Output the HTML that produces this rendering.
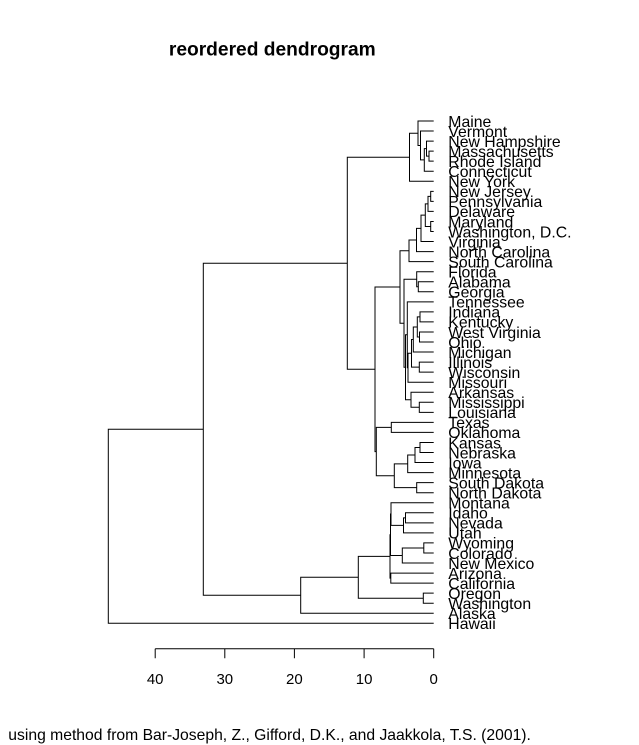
<!DOCTYPE html>
<html>
<head>
<meta charset="utf-8">
<style>
html,body{margin:0;padding:0;background:#fff;}
svg{display:block;}
text{font-family:"Liberation Sans",Arial,sans-serif;fill:#000;}
</style>
</head>
<body>
<svg width="639" height="745" viewBox="0 0 639 745" xmlns="http://www.w3.org/2000/svg">
<rect x="0" y="0" width="639" height="745" fill="#fff"/>
<text x="272.3" y="55.5" font-size="19.2" font-weight="bold" text-anchor="middle">reordered dendrogram</text>

<g fill="none" stroke="#000" stroke-width="1">
<!-- NE -->
<path d="M433.7 151.14 H429 V161.18 H433.7"/>
<path d="M433.7 141.09 H426.5 V156.16 H429"/>
<path d="M426.5 148.63 H424.3 V171.23 H433.7"/>
<path d="M433.7 131.05 H420.5 V159.93 H424.3"/>
<path d="M433.7 121 H418 V145.49 H420.5"/>
<path d="M418 133.25 H409.5 V181.28 H433.7"/>
<!-- Mid-Atlantic -->
<path d="M433.7 191.32 H430.7 V201.37 H433.7"/>
<path d="M430.7 196.35 H428 V211.41 H433.7"/>
<path d="M433.7 221.46 H430.7 V231.51 H433.7"/>
<path d="M428 203.88 H425.3 V226.49 H430.7"/>
<path d="M425.3 215.18 H421 V241.55 H433.7"/>
<path d="M421 228.37 H416.5 V251.6 H433.7"/>
<path d="M416.5 239.98 H409 V261.64 H433.7"/>
<!-- South / Midwest -->
<path d="M433.7 281.74 H418.3 V291.78 H433.7"/>
<path d="M433.7 271.69 H416.7 V286.76 H418.3"/>
<path d="M433.7 311.87 H420 V321.92 H433.7"/>
<path d="M433.7 331.97 H419.5 V342.01 H433.7"/>
<path d="M420 316.9 H417.3 V336.99 H419.5"/>
<path d="M417.3 326.94 H413.3 V352.06 H433.7"/>
<path d="M433.7 362.1 H419.3 V372.15 H433.7"/>
<path d="M413.3 339.5 H411.5 V367.13 H419.3"/>
<path d="M411.5 353.31 H408 V382.2 H433.7"/>
<path d="M433.7 301.83 H407.3 V367.76 H408"/>
<path d="M433.7 402.29 H419.3 V412.33 H433.7"/>
<path d="M433.7 392.24 H411 V407.31 H419.3"/>
<path d="M407.3 334.79 H405.5 V399.78 H411"/>
<path d="M416.7 279.22 H404 V367.28 H405.5"/>
<path d="M409 250.81 H400 V323.25 H404"/>
<!-- Plains -->
<path d="M433.7 422.38 H391.3 V432.43 H433.7"/>
<path d="M433.7 442.47 H420 V452.52 H433.7"/>
<path d="M420 447.5 H415 V462.56 H433.7"/>
<path d="M415 455.03 H407.7 V472.61 H433.7"/>
<path d="M433.7 482.66 H416.7 V492.7 H433.7"/>
<path d="M407.7 463.82 H394.3 V487.68 H416.7"/>
<path d="M391.3 427.4 H376.3 V475.75 H394.3"/>
<path d="M400 287.03 H375 V451.58 H376.3"/>
<path d="M409.5 157.26 H347.3 V369.3 H375"/>
<!-- West -->
<path d="M433.7 512.79 H405.5 V522.84 H433.7"/>
<path d="M405.5 517.82 H403.5 V532.89 H433.7"/>
<path d="M433.7 502.75 H391 V525.35 H403.5"/>
<path d="M433.7 542.93 H423.8 V552.98 H433.7"/>
<path d="M423.8 547.96 H402.3 V563.02 H433.7"/>
<path d="M391 514.05 H390.5 V555.49 H402.3"/>
<path d="M433.7 573.07 H390.8 V583.12 H433.7"/>
<path d="M390.5 534.77 H390 V578.1 H390.8"/>
<path d="M433.7 593.16 H423.3 V603.21 H433.7"/>
<path d="M390 556.43 H358.3 V598.19 H423.3"/>
<path d="M358.3 577.31 H300.7 V613.25 H433.7"/>
<path d="M347.3 263.28 H203.3 V595.28 H300.7"/>
<path d="M203.3 429.28 H108.3 V623.3 H433.7"/>
<!-- axis -->
<path d="M155.2 648.7 H433.7"/>
<path d="M155.2 648.7 V658.3 M224.8 648.7 V658.3 M294.4 648.7 V658.3 M364.1 648.7 V658.3 M433.7 648.7 V658.3"/>
</g>

<g font-size="15" text-anchor="middle">
<text x="155.2" y="684">40</text>
<text x="224.8" y="684">30</text>
<text x="294.4" y="684">20</text>
<text x="364.1" y="684">10</text>
<text x="433.7" y="684">0</text>
</g>

<g font-size="15.8">
<text x="448.3" y="126.8">Maine</text>
<text x="448.3" y="136.85">Vermont</text>
<text x="448.3" y="146.89">New Hampshire</text>
<text x="448.3" y="156.94">Massachusetts</text>
<text x="448.3" y="166.98">Rhode Island</text>
<text x="448.3" y="177.03">Connecticut</text>
<text x="448.3" y="187.08">New York</text>
<text x="448.3" y="197.12">New Jersey</text>
<text x="448.3" y="207.17">Pennsylvania</text>
<text x="448.3" y="217.21">Delaware</text>
<text x="448.3" y="227.26">Maryland</text>
<text x="448.3" y="237.31">Washington, D.C.</text>
<text x="448.3" y="247.35">Virginia</text>
<text x="448.3" y="257.4">North Carolina</text>
<text x="448.3" y="267.44">South Carolina</text>
<text x="448.3" y="277.49">Florida</text>
<text x="448.3" y="287.54">Alabama</text>
<text x="448.3" y="297.58">Georgia</text>
<text x="448.3" y="307.63">Tennessee</text>
<text x="448.3" y="317.67">Indiana</text>
<text x="448.3" y="327.72">Kentucky</text>
<text x="448.3" y="337.77">West Virginia</text>
<text x="448.3" y="347.81">Ohio</text>
<text x="448.3" y="357.86">Michigan</text>
<text x="448.3" y="367.9">Illinois</text>
<text x="448.3" y="377.95">Wisconsin</text>
<text x="448.3" y="388">Missouri</text>
<text x="448.3" y="398.04">Arkansas</text>
<text x="448.3" y="408.09">Mississippi</text>
<text x="448.3" y="418.13">Louisiana</text>
<text x="448.3" y="428.18">Texas</text>
<text x="448.3" y="438.23">Oklahoma</text>
<text x="448.3" y="448.27">Kansas</text>
<text x="448.3" y="458.32">Nebraska</text>
<text x="448.3" y="468.36">Iowa</text>
<text x="448.3" y="478.41">Minnesota</text>
<text x="448.3" y="488.46">South Dakota</text>
<text x="448.3" y="498.5">North Dakota</text>
<text x="448.3" y="508.55">Montana</text>
<text x="448.3" y="518.59">Idaho</text>
<text x="448.3" y="528.64">Nevada</text>
<text x="448.3" y="538.69">Utah</text>
<text x="448.3" y="548.73">Wyoming</text>
<text x="448.3" y="558.78">Colorado</text>
<text x="448.3" y="568.82">New Mexico</text>
<text x="448.3" y="578.87">Arizona</text>
<text x="448.3" y="588.92">California</text>
<text x="448.3" y="598.96">Oregon</text>
<text x="448.3" y="609.01">Washington</text>
<text x="448.3" y="619.05">Alaska</text>
<text x="448.3" y="629.1">Hawaii</text>
</g>

<text x="8.3" y="740" font-size="15.7">using method from Bar-Joseph, Z., Gifford, D.K., and Jaakkola, T.S. (2001).</text>
</svg>
</body>
</html>
